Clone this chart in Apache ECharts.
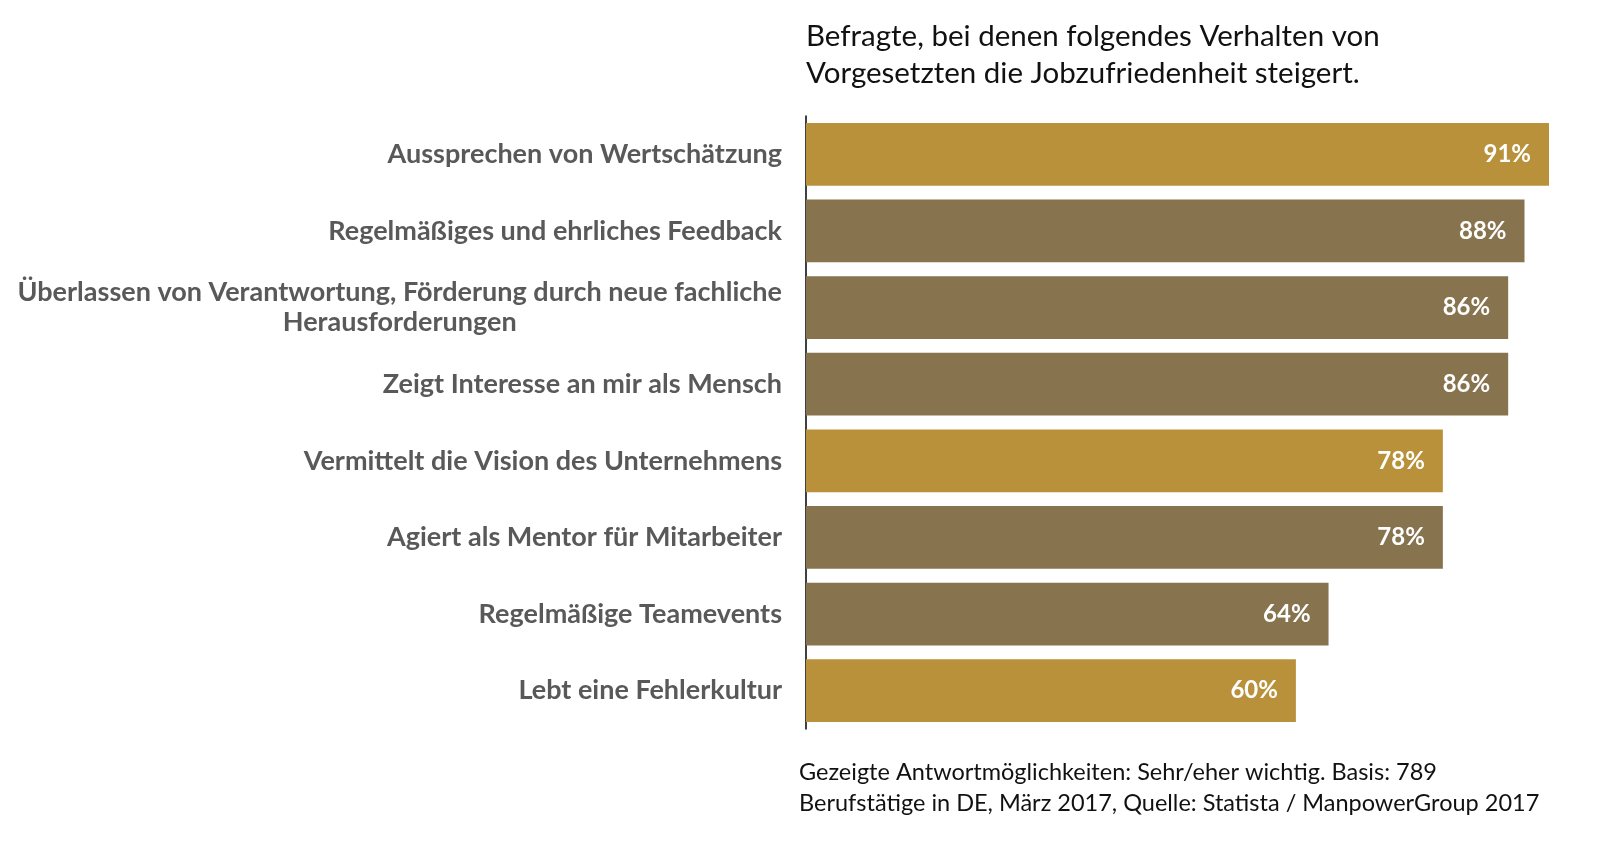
<!DOCTYPE html>
<html><head><meta charset="utf-8">
<script src="https://cdn.jsdelivr.net/npm/echarts@6/dist/echarts.min.js"></script>
<style>html,body{margin:0;padding:0;background:#fff}#c{width:1598px;height:851px}</style>
</head><body><div id="c"></div>
<script>
const categories = [
  "Aussprechen von Wertschätzung",
  "Regelmäßiges und ehrliches Feedback",
  "Überlassen von Verantwortung, Förderung durch neue fachliche\nHerausforderungen",
  "Zeigt Interesse an mir als Mensch",
  "Vermittelt die Vision des Unternehmens",
  "Agiert als Mentor für Mitarbeiter",
  "Regelmäßige Teamevents",
  "Lebt eine Fehlerkultur"
];
const values = [91, 88, 86, 86, 78, 78, 64, 60];
const barColors = ["#B8913A", "#87744E", "#87744E", "#87744E", "#B8913A", "#87744E", "#87744E", "#B8913A"];
const titleText = "Befragte, bei denen folgendes Verhalten von\nVorgesetzten die Jobzufriedenheit steigert.";
const noteText = "Gezeigte Antwortmöglichkeiten: Sehr/eher wichtig. Basis: 789\nBerufstätige in DE, März 2017, Quelle: Statista / ManpowerGroup 2017";

const chart = echarts.init(document.getElementById('c'), null, {renderer: 'canvas'});
chart.setOption({
  animation: false,
  backgroundColor: '#fff',
  title: [
    {text: titleText, left: 801, top: 13,
     textStyle: {fontFamily: 'Lato', fontWeight: 'normal', fontSize: 29.5, color: '#111', lineHeight: 37}},
    {text: noteText, left: 794, top: 752,
     textStyle: {fontFamily: 'Lato', fontWeight: 'normal', fontSize: 23.5, color: '#111', lineHeight: 31}}
  ],
  grid: {left: 806, right: 49, top: 116, bottom: 122, containLabel: false},
  xAxis: {type: 'value', min: 0, max: 91, show: false},
  yAxis: {
    type: 'category', data: categories, inverse: true,
    axisLine: {show: true, lineStyle: {color: '#000', width: 1.5}},
    axisTick: {show: false},
    axisLabel: {
      margin: 24, align: 'right',
      fontFamily: 'Lato', fontWeight: 'bold', fontSize: 27, color: '#595959',
      formatter: function (v) {
        return v.split('\n').map(function (l) { return '{c|' + l + '}'; }).join('\n');
      },
      rich: {c: {align: 'center', fontFamily: 'Lato', fontWeight: 'bold', fontSize: 27, color: '#595959', lineHeight: 30}}
    }
  },
  series: [{
    type: 'bar', barCategoryGap: '18%',
    data: values.map(function (v, i) { return {value: v, itemStyle: {color: barColors[i]}}; }),
    label: {show: true, position: 'insideRight', distance: 18, formatter: '{c}%',
      fontFamily: 'Lato', fontWeight: 'bold', fontSize: 24, color: '#fff'}
  }]
});
</script></body></html>
